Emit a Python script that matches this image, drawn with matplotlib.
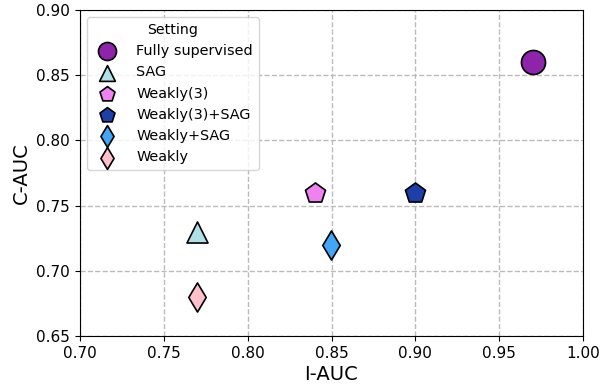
import matplotlib
matplotlib.use("Agg")
import matplotlib.pyplot as plt

settings = ["Fully supervised", "SAG", "Weakly(3)", "Weakly(3)+SAG", "Weakly+SAG", "Weakly"]
i_auc = [0.97, 0.77, 0.84, 0.90, 0.85, 0.77]
c_auc = [0.86, 0.73, 0.76, 0.76, 0.72, 0.68]
markers = ["o", "^", "p", "p", "d", "d"]
colors = ["#8E24AA", "#B0E0E6", "#EE82EE", "#1E3FA8", "#42A5F5", "#FFC0CB"]
sizes = [300, 230, 230, 230, 220, 220]

fig, ax = plt.subplots(figsize=(6, 3.84), dpi=100)
for name, x, y, m, c, s in zip(settings, i_auc, c_auc, markers, colors, sizes):
    ax.scatter(x, y, marker=m, s=s, c=c, edgecolors="black", linewidths=1.2,
               label=name, zorder=3)

ax.set_xlim(0.70, 1.00)
ax.set_ylim(0.65, 0.90)
ax.set_xlabel("I-AUC", fontsize=14, labelpad=3)
ax.set_ylabel("C-AUC", fontsize=14)
ax.tick_params(labelsize=11)
ax.grid(True, linestyle="--", color="#bbbbbb", linewidth=1)
ax.set_axisbelow(True)
ax.legend(title="Setting", loc="upper left", fontsize=10.4, title_fontsize=10.2,
          markerscale=0.75, handletextpad=1.0)

fig.subplots_adjust(left=0.133, right=0.972, top=0.974, bottom=0.125)
fig.savefig("out.png", dpi=100)
